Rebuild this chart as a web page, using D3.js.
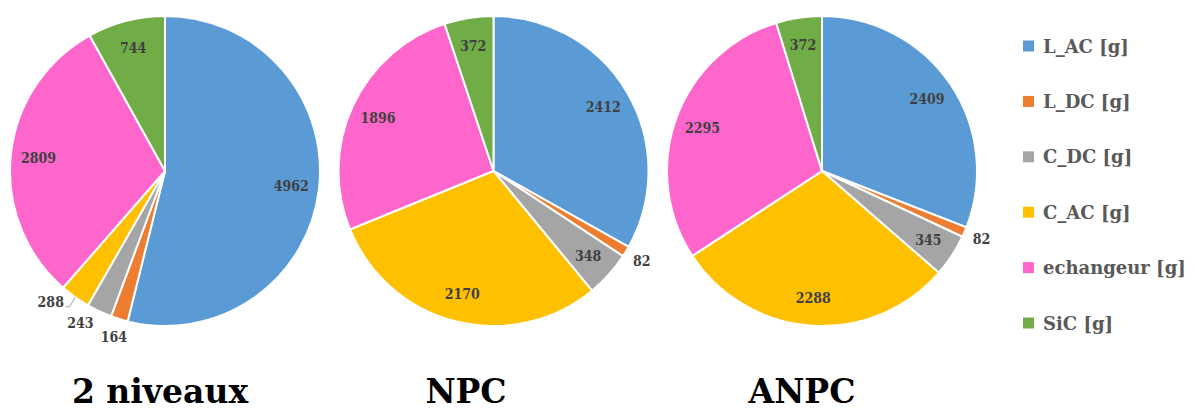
<!DOCTYPE html>
<html>
<head>
<meta charset="utf-8">
<script src="https://cdn.jsdelivr.net/npm/d3@7"></script>
<style>
  html, body { margin: 0; padding: 0; background: #ffffff; }
  svg { display: block; }
  text { font-family: "DejaVu Serif", serif; font-weight: bold; }
  text.value { font-family: "DejaVu Serif Condensed", "DejaVu Serif", serif; font-stretch: condensed; }
</style>
</head>
<body>
<svg id="chart" width="1203" height="411"></svg>
<script>
// Mass breakdown (grams) for three converter topologies
const categories = ["L_AC [g]", "L_DC [g]", "C_DC [g]", "C_AC [g]", "echangeur [g]", "SiC [g]"];
const colors = ["#5B9BD5", "#ED7D31", "#A5A5A5", "#FFC000", "#FF66CC", "#70AD47"];
const titles = ["2 niveaux", "NPC", "ANPC"];
const valuesTwoLevel = [4962, 164, 243, 288, 2809, 744];
const valuesNPC = [2412, 82, 348, 2170, 1896, 372];
const valuesANPC = [2409, 82, 345, 2288, 2295, 372];
const series = [valuesTwoLevel, valuesNPC, valuesANPC];

const svg = d3.select("#chart");
const radius = 155;
const cy = 171;
const centerX = d3.scaleLinear().domain([0, 2]).range([165, 822]);
const titleX = [160, 466, 802];

const pie = d3.pie().sort(null).value(d => d);
const arc = d3.arc().innerRadius(0).outerRadius(radius);
const labelArc = d3.arc().innerRadius(radius * 0.82).outerRadius(radius * 0.82);
const color = d3.scaleOrdinal().domain(categories).range(colors);

series.forEach((vals, i) => {
  const cx = centerX(i);
  const g = svg.append("g").attr("transform", `translate(${cx},${cy})`);
  const total = d3.sum(vals);
  const arcs = pie(vals);

  g.selectAll("path.slice")
    .data(arcs)
    .join("path")
    .attr("class", "slice")
    .attr("d", arc)
    .attr("fill", (d, k) => color(categories[k]))
    .attr("stroke", "#ffffff")
    .attr("stroke-width", 2);

  // inside labels for larger slices
  arcs.forEach(d => {
    const frac = d.data / total;
    if (frac >= 0.04) {
      const [x, y] = labelArc.centroid(d);
      g.append("text")
        .attr("class", "value")
        .attr("x", x).attr("y", y)
        .attr("text-anchor", "middle")
        .attr("dominant-baseline", "central")
        .attr("font-size", 14)
        .attr("fill", "#404040")
        .text(d.data);
    }
  });

  // outside labels for thin slices, spread apart so they do not collide
  let lastAngle = -Infinity;
  const minGap = 12 * Math.PI / 180;
  arcs.forEach(d => {
    const frac = d.data / total;
    if (frac >= 0.04) return;
    const mid = (d.startAngle + d.endAngle) / 2;
    const ang = Math.max(mid, lastAngle + minGap);
    lastAngle = ang;
    const rr = radius * 1.12;
    const lx = rr * Math.sin(ang);
    const ly = -rr * Math.cos(ang);
    const t = g.append("text")
      .attr("class", "value")
      .attr("x", lx).attr("y", ly)
      .attr("text-anchor", "middle")
      .attr("dominant-baseline", "central")
      .attr("font-size", 14)
      .attr("fill", "#404040")
      .text(d.data);
    if (ang - mid > 5 * Math.PI / 180) {
      const w = t.node().getComputedTextLength();
      const ex = radius * Math.sin(mid);
      const ey = -radius * Math.cos(mid);
      g.append("polyline")
        .attr("points", [[lx + w / 2 + 2, ly + 5], [lx + w / 2 + 6, ly + 5], [ex, ey]].map(p => p.join(",")).join(" "))
        .attr("fill", "none")
        .attr("stroke", "#A6A6A6")
        .attr("stroke-width", 1);
    }
  });

  svg.append("text")
    .attr("x", titleX[i])
    .attr("y", 403)
    .attr("text-anchor", "middle")
    .attr("font-size", 33)
    .attr("fill", "#000000")
    .text(titles[i]);
});

// legend
const legendY = d3.scalePoint().domain(categories).range([46, 323]);
const legend = svg.append("g");
categories.forEach(c => {
  legend.append("rect")
    .attr("x", 1023).attr("y", legendY(c) - 5.5)
    .attr("width", 11).attr("height", 11)
    .attr("fill", color(c));
  legend.append("text")
    .attr("x", 1043).attr("y", legendY(c))
    .attr("dominant-baseline", "central")
    .attr("font-size", 18)
    .attr("fill", "#595959")
    .text(c);
});
</script>
</body>
</html>
